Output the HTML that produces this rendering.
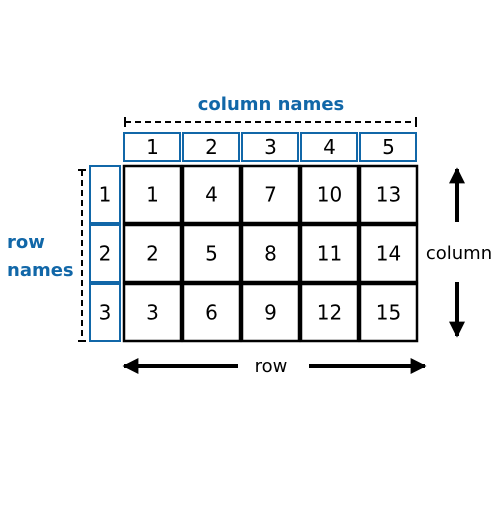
<!DOCTYPE html>
<html><head><meta charset="utf-8"><style>
body{margin:0;background:#fff}
text{font-family:"DejaVu Sans","Liberation Sans",sans-serif}
</style></head><body>
<svg width="500" height="500" viewBox="0 0 500 500">
<defs>
<marker id="ah" viewBox="0 0 10 10" refX="9" refY="5" markerWidth="4" markerHeight="4" orient="auto-start-reverse" markerUnits="strokeWidth"><path d="M0,0L10,5L0,10z" fill="#000"/></marker>
</defs>
<text x="271" y="110" text-anchor="middle" style="font-size:18px;font-weight:bold" fill="#1167a8">column names</text>
<g stroke="#000" stroke-width="2">
<line x1="125" y1="122" x2="416" y2="122" stroke-dasharray="6,4"/>
<line x1="125" y1="117" x2="125" y2="127"/><line x1="416" y1="117" x2="416" y2="127"/>
</g>
<g stroke="#000" stroke-width="2">
<line x1="82" y1="170" x2="82" y2="341" stroke-dasharray="6,4"/>
<line x1="78" y1="170" x2="86" y2="170"/><line x1="78" y1="341" x2="86" y2="341"/>
</g>
<text style="font-size:18px;font-weight:bold" fill="#1167a8"><tspan x="7" y="248">row</tspan><tspan x="7" y="276">names</tspan></text>
<g id="g"></g>
<line x1="457" y1="222" x2="457" y2="169" stroke="#000" stroke-width="4" marker-end="url(#ah)"/>
<line x1="457" y1="282" x2="457" y2="336" stroke="#000" stroke-width="4" marker-end="url(#ah)"/>
<text x="459" y="259" text-anchor="middle" style="font-size:18px">column</text>
<line x1="238" y1="366" x2="124" y2="366" stroke="#000" stroke-width="4" marker-end="url(#ah)"/>
<line x1="309" y1="366" x2="425" y2="366" stroke="#000" stroke-width="4" marker-end="url(#ah)"/>
<text x="271" y="372" text-anchor="middle" style="font-size:18px">row</text>
</svg>
<script>
const colNames=[1,2,3,4,5];
const rowNames=[1,2,3];
const g=document.getElementById('g');
const NS='http://www.w3.org/2000/svg';
function mk(t,a){const e=document.createElementNS(NS,t);for(const k in a)e.setAttribute(k,a[k]);g.appendChild(e);return e;}
const x0=123,cw=59,y0=165,rh=59;
colNames.forEach((c,i)=>{
 const r=mk('rect',{x:x0+i*cw+1,y:133,width:cw-3,height:28,fill:'#fff',stroke:'#1167a8','stroke-width':2});
 
 
 const t=mk('text',{x:x0+i*cw+cw/2,y:154,'text-anchor':'middle',style:'font-size:20px'});
 t.textContent=c;
 
 
});
rowNames.forEach((rn,j)=>{
 const r=mk('rect',{x:90,y:y0+j*rh+1,width:30,height:rh-2,fill:'#fff',stroke:'#1167a8','stroke-width':2});
 
 
 const t=mk('text',{x:105,y:y0+j*rh+rh/2+7,'text-anchor':'middle',style:'font-size:20px'});
 t.textContent=rn;
 
 
 colNames.forEach((c,i)=>{
  const cell=mk('rect',{x:x0+i*cw+1,y:y0+j*rh+1,width:cw-2,height:rh-2,fill:'#fff',stroke:'#000','stroke-width':2.5});
  
  
  const t2=mk('text',{x:x0+i*cw+cw/2,y:y0+j*rh+rh/2+7,'text-anchor':'middle',style:'font-size:20px'});
  t2.textContent=i*rowNames.length+j+1;
  
  
 });
});
</script>
</body></html>
